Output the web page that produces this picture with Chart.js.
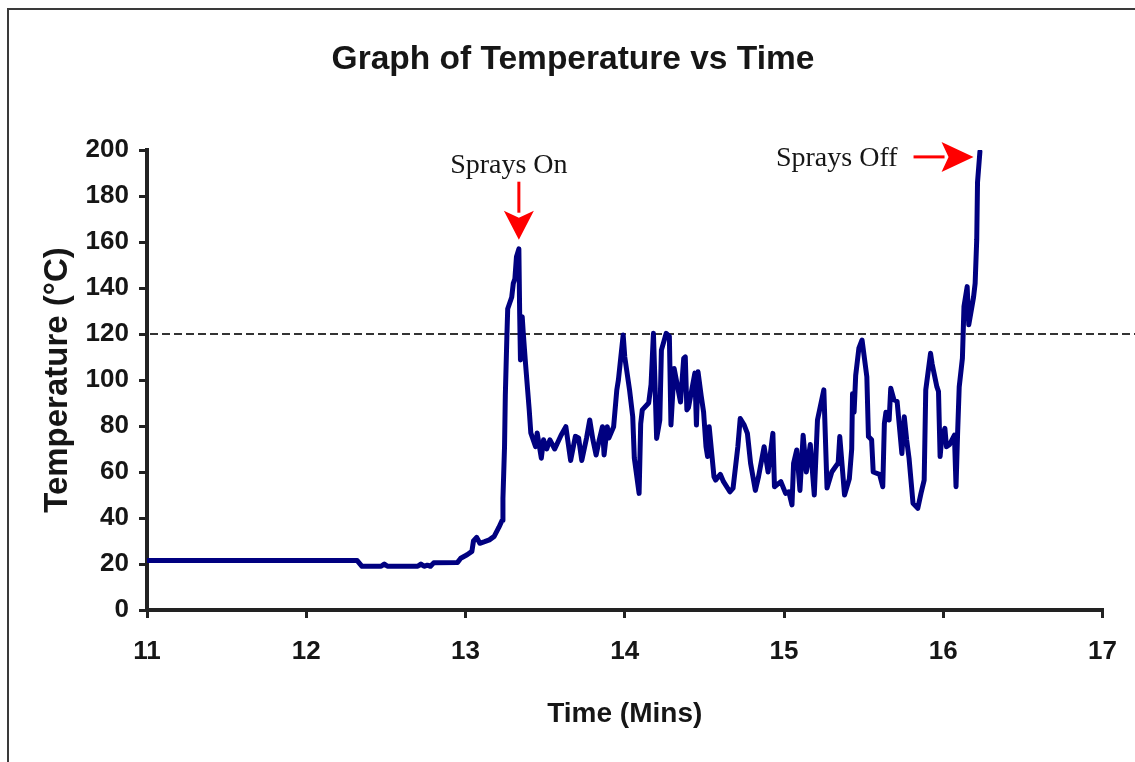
<!DOCTYPE html>
<html>
<head>
<meta charset="utf-8">
<title>Graph of Temperature vs Time</title>
<script src="https://cdn.jsdelivr.net/npm/chart.js@4.4.1/dist/chart.umd.min.js"></script>
<style>
  html, body { margin: 0; padding: 0; background: #ffffff; }
  #wrap { position: relative; width: 1135px; height: 762px; }
</style>
</head>
<body>
<div id="wrap"><canvas id="chart" width="1135" height="762"></canvas></div>
<script>
// Time (minutes) and measured temperature (°C)
const timeMins = [
  11.00, 12.32, 12.35, 12.47, 12.49, 12.51, 12.70, 12.72, 12.74, 12.76, 12.78, 12.80,
  12.95, 12.97, 13.01, 13.04, 13.05, 13.07, 13.09, 13.12, 13.15, 13.18, 13.21, 13.23,
  13.235, 13.245, 13.25, 13.26, 13.265, 13.29, 13.30, 13.31, 13.32, 13.335, 13.34, 13.345,
  13.356, 13.362, 13.377, 13.39, 13.40, 13.41, 13.44, 13.45, 13.476, 13.49, 13.51, 13.53,
  13.56, 13.60, 13.63, 13.66, 13.69, 13.71, 13.73, 13.76, 13.78, 13.80, 13.82, 13.84,
  13.86, 13.87, 13.89, 13.90, 13.93, 13.95, 13.96, 13.99, 14.00, 14.03, 14.05, 14.06,
  14.09, 14.10, 14.11, 14.15, 14.165, 14.18, 14.19, 14.20, 14.22, 14.23, 14.26, 14.28,
  14.29, 14.31, 14.35, 14.37, 14.38, 14.39, 14.40, 14.44, 14.45, 14.46, 14.48, 14.495,
  14.51, 14.52, 14.53, 14.56, 14.57, 14.60, 14.62, 14.66, 14.68, 14.71, 14.725, 14.75,
  14.77, 14.79, 14.82, 14.84, 14.875, 14.90, 14.93, 14.94, 14.98, 15.01, 15.03, 15.05,
  15.06, 15.08, 15.10, 15.12, 15.14, 15.165, 15.19, 15.21, 15.25, 15.27, 15.30, 15.34,
  15.35, 15.38, 15.41, 15.425, 15.43, 15.44, 15.45, 15.47, 15.49, 15.52, 15.53, 15.55,
  15.56, 15.60, 15.62, 15.63, 15.64, 15.66, 15.67, 15.69, 15.71, 15.74, 15.755, 15.77,
  15.785, 15.81, 15.84, 15.86, 15.88, 15.89, 15.92, 15.93, 15.96, 15.97, 15.98, 15.99,
  16.01, 16.02, 16.04, 16.07, 16.08, 16.09, 16.10, 16.12, 16.13, 16.15, 16.16, 16.19,
  16.20, 16.21, 16.215, 16.23
];
const temperatureC = [
  21.5, 21.5, 19, 19, 20, 19, 19, 20, 19, 19.5, 19, 20.5,
  20.7, 22.5, 24, 25.5, 30, 31.6, 29, 29.7, 30.5, 32, 36, 39,
  48.5, 71, 93.5, 119.6, 131, 136, 142, 144, 153.6, 157, 129, 108.7,
  127.5, 121, 107, 95.7, 87, 77, 71, 77, 66, 74, 70, 74,
  70, 76, 79.7, 65, 75.5, 74.8, 65, 74.8, 82.6, 74, 67.4, 74,
  79.7, 67.4, 79.7, 74.8, 79.7, 95.7, 100, 119.6, 110, 95.7, 84, 66,
  50.7, 81, 87, 90, 98, 120.3, 98, 74.6, 82.6, 113, 120.3, 119,
  80.4, 105, 90.4, 109.4, 110, 87, 88, 103, 80.4, 103.6, 93, 86,
  71, 66.7, 79.7, 58, 56.5, 59, 55.8, 51.4, 53, 71, 83.3, 80.4,
  76.8, 63.8, 52, 58, 71, 60, 76.8, 53.6, 55.8, 50.7, 51.4, 45.7,
  63.8, 69.6, 52, 76, 60, 72, 50, 82.6, 95.7, 53, 60, 64,
  75.4, 50, 57, 70, 94, 86, 102, 113.8, 117.4, 101.4, 75.4, 74,
  60, 59, 53.6, 81, 86, 82.6, 96.4, 91.4, 90.7, 68, 84, 74,
  66, 46.4, 44.2, 50.7, 56.5, 95.7, 111.6, 107, 97, 95, 66.7, 74.6,
  79, 71, 72, 76, 53.6, 77, 97, 109.4, 132, 140.6, 124, 136,
  142, 161, 186, 199.3
];

// Axis tick values
const timeTicks = [11, 12, 13, 14, 15, 16, 17];
const tempTicks = [0, 20, 40, 60, 80, 100, 120, 140, 160, 180, 200];

// Reference temperature shown as a dashed line
const thresholdC = 120;

// Spray events marked with arrows
const eventLabels = ['Sprays On', 'Sprays Off'];
const eventTimes = [13.335, 16.19];
const eventTemps = [161, 197];

const TITLE = 'Graph of Temperature vs Time';
const SANS = '"Liberation Sans", Arial, Helvetica, sans-serif';
const SERIF = '"Liberation Serif", "Times New Roman", Times, serif';
const INK = '#161616';

const points = timeMins.map((t, i) => ({ x: t, y: temperatureC[i] }));

// Outer frame and the chart title
const framePlugin = {
  id: 'frame',
  beforeDraw(chart) {
    const { ctx, width, height } = chart;
    ctx.save();
    ctx.fillStyle = '#ffffff';
    ctx.fillRect(0, 0, width, height);
    ctx.strokeStyle = '#3a3a3a';
    ctx.lineWidth = 2;
    ctx.beginPath();
    ctx.moveTo(8, height);
    ctx.lineTo(8, 9);
    ctx.lineTo(width, 9);
    ctx.stroke();
    ctx.fillStyle = INK;
    ctx.font = 'bold 33.5px ' + SANS;
    ctx.textAlign = 'center';
    ctx.textBaseline = 'alphabetic';
    ctx.fillText(TITLE, 573, 69);
    ctx.restore();
  }
};

// Dashed reference line at the threshold temperature
const thresholdPlugin = {
  id: 'threshold',
  beforeDatasetsDraw(chart) {
    const { ctx, chartArea, width } = chart;
    const y = Math.round(chart.scales.y.getPixelForValue(thresholdC));
    ctx.save();
    ctx.strokeStyle = '#333333';
    ctx.lineWidth = 2;
    ctx.setLineDash([8, 4]);
    ctx.beginPath();
    ctx.moveTo(chartArea.left + 3, y);
    ctx.lineTo(width, y);
    ctx.stroke();
    ctx.restore();
  }
};

// Red arrows with serif captions for the spray events
const eventsPlugin = {
  id: 'events',
  afterDatasetsDraw(chart) {
    const { ctx } = chart;
    const xs = chart.scales.x, ys = chart.scales.y;
    ctx.save();
    eventLabels.forEach((label, i) => {
      const tx = xs.getPixelForValue(eventTimes[i]);
      const ty = ys.getPixelForValue(eventTemps[i]);
      ctx.fillStyle = '#ff0000';
      if (i === 0) {
        // downward arrow
        ctx.fillRect(tx - 1.5, ty - 58, 3, 31);
        ctx.beginPath();
        ctx.moveTo(tx, ty);
        ctx.lineTo(tx - 15, ty - 29);
        ctx.lineTo(tx, ty - 22);
        ctx.lineTo(tx + 15, ty - 29);
        ctx.closePath();
        ctx.fill();
        ctx.fillStyle = INK;
        ctx.font = '28px ' + SERIF;
        ctx.textAlign = 'center';
        ctx.textBaseline = 'alphabetic';
        ctx.fillText(label, tx - 10, ty - 67);
      } else {
        // rightward arrow
        ctx.fillRect(tx - 60, ty - 1.5, 31, 3);
        ctx.beginPath();
        ctx.moveTo(tx, ty);
        ctx.lineTo(tx - 32, ty - 15);
        ctx.lineTo(tx - 25, ty);
        ctx.lineTo(tx - 32, ty + 15);
        ctx.closePath();
        ctx.fill();
        ctx.fillStyle = INK;
        ctx.font = '28px ' + SERIF;
        ctx.textAlign = 'right';
        ctx.textBaseline = 'alphabetic';
        ctx.fillText(label, tx - 76, ty + 9);
      }
    });
    ctx.restore();
  }
};

new Chart(document.getElementById('chart'), {
  type: 'line',
  data: {
    datasets: [{
      label: 'Temperature',
      data: points,
      borderColor: '#000080',
      borderWidth: 5,
      pointRadius: 0,
      tension: 0,
      borderJoinStyle: 'round',
      borderCapStyle: 'round',
      fill: false
    }]
  },
  options: {
    responsive: false,
    animation: false,
    devicePixelRatio: 1,
    layout: { padding: { top: 150, right: 32, bottom: 0, left: 0 } },
    plugins: {
      legend: { display: false },
      tooltip: { enabled: false },
      title: { display: false }
    },
    scales: {
      x: {
        type: 'linear',
        min: timeTicks[0],
        max: timeTicks[timeTicks.length - 1],
        afterFit(scale) { scale.height = 152; },
        afterBuildTicks(scale) { scale.ticks = timeTicks.map(v => ({ value: v })); },
        ticks: {
          color: INK,
          font: { family: SANS, size: 26, weight: 'bold' },
          padding: 18,
          maxRotation: 0
        },
        grid: {
          drawOnChartArea: false,
          drawTicks: true,
          tickLength: 8,
          color: '#222222',
          lineWidth: 3
        },
        border: { display: true, color: '#222222', width: 4 },
        title: {
          display: true,
          text: 'Time (Mins)',
          color: INK,
          font: { family: SANS, size: 28, weight: 'bold' },
          padding: { top: 0, bottom: 31 }
        }
      },
      y: {
        type: 'linear',
        min: tempTicks[0],
        max: tempTicks[tempTicks.length - 1],
        afterFit(scale) { scale.width = 147; },
        afterBuildTicks(scale) { scale.ticks = tempTicks.map(v => ({ value: v })); },
        ticks: {
          color: INK,
          font: { family: SANS, size: 26, weight: 'bold' },
          padding: 10
        },
        grid: {
          drawOnChartArea: false,
          drawTicks: true,
          tickLength: 8,
          color: '#222222',
          lineWidth: 3
        },
        border: { display: true, color: '#222222', width: 4 },
        title: {
          display: true,
          text: 'Temperature (°C)',
          color: INK,
          font: { family: SANS, size: 33, weight: 'bold' },
          padding: { top: 38, bottom: 0 }
        }
      }
    }
  },
  plugins: [framePlugin, thresholdPlugin, eventsPlugin]
});
</script>
</body>
</html>
